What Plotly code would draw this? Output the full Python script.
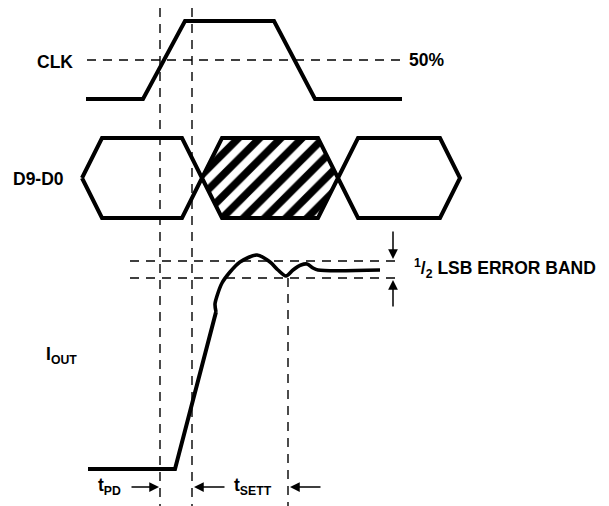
import plotly.graph_objects as go

# ---- waveform data (time on x, level on y; screen-like units, y grows downward) ----
CLK_T = [86, 143, 185, 274, 315, 402]
CLK_Y = [99, 99, 21, 21, 99, 99]
CLK_50_Y = 60
CLK_50_T = [87, 402]

BUS_EDGES = [82, 202, 338, 460]      # crossing points of D9-D0 bus cells
BUS_SLEW = 20
BUS_TOP, BUS_MID, BUS_BOT = 138, 178, 218
BUS_HATCHED = [False, True, False]

IOUT_RAMP_T = [88, 175, 216]
IOUT_RAMP_Y = [469, 469, 312]
IOUT_SETTLE_T = [216, 215, 217, 222, 230, 240, 257, 270, 278, 286, 293, 301, 307, 313, 318, 380]
IOUT_SETTLE_Y = [312, 304, 296, 283, 272, 262, 255, 262, 270, 276, 270, 265, 264, 268, 270, 270]

BAND_Y = [261, 278]
BAND_T = [130, 400]
T_MARKS = [160, 192, 288]            # vertical timing markers
T_MARK_TOP = [8, 8, 278]
T_BOTTOM = 506

PAGE_OFF = 8  # browser default body margin
W, H = 609, 506

fig = go.Figure()

dash = "9px,7px"
fig.add_trace(go.Scatter(x=CLK_50_T, y=[CLK_50_Y] * 2, mode="lines",
                         line=dict(color="black", width=1.4, dash=dash), hoverinfo="skip"))
for by in BAND_Y:
    fig.add_trace(go.Scatter(x=BAND_T, y=[by] * 2, mode="lines",
                             line=dict(color="black", width=1.4, dash=dash), hoverinfo="skip"))
for tx, ty in zip(T_MARKS, T_MARK_TOP):
    fig.add_trace(go.Scatter(x=[tx, tx], y=[ty, T_BOTTOM], mode="lines",
                             line=dict(color="black", width=1.4, dash=dash), hoverinfo="skip"))

# bus hexagons
for i in range(len(BUS_EDGES) - 1):
    l, r = BUS_EDGES[i], BUS_EDGES[i + 1]
    xs = [l, l + BUS_SLEW, r - BUS_SLEW, r, r - BUS_SLEW, l + BUS_SLEW, l]
    ys = [BUS_MID, BUS_TOP, BUS_TOP, BUS_MID, BUS_BOT, BUS_BOT, BUS_MID]
    kw = {}
    if BUS_HATCHED[i]:
        kw = dict(fill="toself", fillcolor="white",
                  fillpattern=dict(shape="/", size=15, solidity=0.5,
                                   fgcolor="black", bgcolor="white", fgopacity=1))
    fig.add_trace(go.Scatter(x=xs, y=ys, mode="lines",
                             line=dict(color="black", width=4), hoverinfo="skip", **kw))

# CLK
fig.add_trace(go.Scatter(x=CLK_T, y=CLK_Y, mode="lines",
                         line=dict(color="black", width=4), hoverinfo="skip"))
# IOUT
fig.add_trace(go.Scatter(x=IOUT_RAMP_T, y=IOUT_RAMP_Y, mode="lines",
                         line=dict(color="black", width=4), hoverinfo="skip"))
fig.add_trace(go.Scatter(x=IOUT_SETTLE_T, y=IOUT_SETTLE_Y, mode="lines",
                         line=dict(color="black", width=3.6, shape="spline", smoothing=0.8),
                         hoverinfo="skip"))

font = dict(family="Liberation Sans, Arial, sans-serif", size=17.5, color="black")
labels = [
    (35, 62, "<b>CLK</b>"),
    (407, 60, "<b>50%</b>"),
    (11, 179, "<b>D9-D0</b>"),
    (44, 355, "<b>I<sub>OUT</sub></b>"),
    (412, 268, "<b><sup>1</sup>/<sub>2</sub> LSB ERROR BAND</b>"),
    (96, 486, "<b>t<sub>PD</sub></b>"),
    (232, 486, "<b>t<sub>SETT</sub></b>"),
]
for x, y, t in labels:
    fig.add_annotation(x=x, y=y, text=t, showarrow=False, xanchor="left", yanchor="middle",
                       font=font, xref="x", yref="y")

# arrows: (tail_x, tail_y, head_x, head_y)
ARROWS = [(130, 487, 159, 487), (226, 487, 194, 487), (322, 487, 290, 487),
          (393, 230, 393, 259), (393, 308, 393, 280)]
for tx, ty, hx, hy in ARROWS:
    fig.add_annotation(x=hx, y=hy, ax=tx, ay=ty, xref="x", yref="y", axref="x", ayref="y",
                       showarrow=True, arrowhead=2, arrowsize=1.3, arrowwidth=1.5,
                       arrowcolor="black", text="")

fig.update_layout(width=W - PAGE_OFF, height=H - PAGE_OFF, margin=dict(l=0, r=0, t=0, b=0),
                  paper_bgcolor="white", plot_bgcolor="white", showlegend=False,
                  xaxis=dict(range=[PAGE_OFF, W], visible=False, fixedrange=True),
                  yaxis=dict(range=[H, PAGE_OFF], visible=False, fixedrange=True))
fig.write_html("out.html")
